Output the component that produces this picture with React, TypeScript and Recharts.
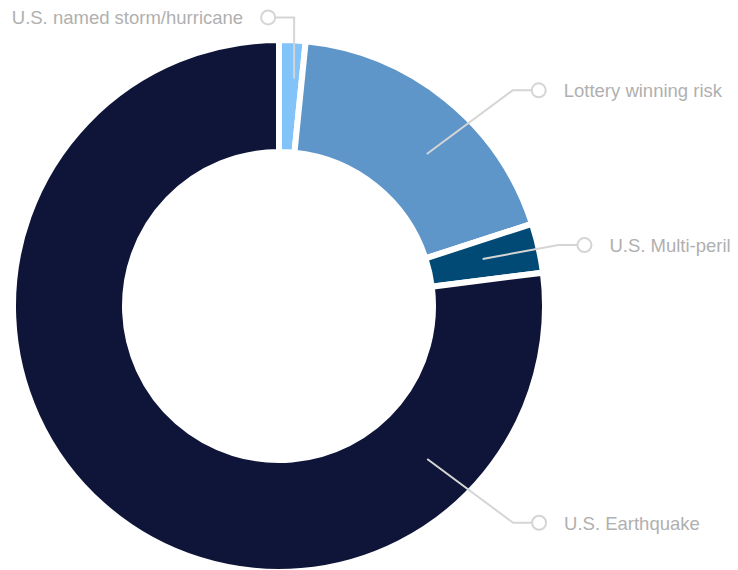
import { PieChart, Pie, Cell } from 'recharts';

const categories = [
  'U.S. named storm/hurricane',
  'Lottery winning risk',
  'U.S. Multi-peril',
  'U.S. Earthquake',
];
const shares = [1.6, 18.4, 3.0, 77.0];
const colors = ['#82c3f9', '#5e96c9', '#004a75', '#0f1538'];

const data = categories.map((name, i) => ({ name, value: shares[i] }));

// leader line layout: angles clockwise from 12 o'clock, radii from the pie centre
const labelLayout: Record<
  string,
  { a0: number; r0: number; a1: number; r1: number; dir: 1 | -1 }
> = {
  'U.S. named storm/hurricane': { a0: 3.8, r0: 228, a1: 3.0, r1: 289, dir: -1 },
  'Lottery winning risk': { a0: 44.2, r0: 212, a1: 47.3, r1: 318, dir: 1 },
  'U.S. Multi-peril': { a0: 77.0, r0: 209, a1: 77.7, r1: 286, dir: 1 },
  'U.S. Earthquake': { a0: 135.9, r0: 213, a1: 132.8, r1: 319, dir: 1 },
};

const polar = (cx: number, cy: number, r: number, deg: number) => {
  const rad = (deg * Math.PI) / 180;
  return { x: cx + r * Math.sin(rad), y: cy - r * Math.cos(rad) };
};

const renderLabel = (props: any) => {
  const { cx, cy, name } = props;
  const l = labelLayout[name];
  if (!l) return null;
  const p0 = polar(cx, cy, l.r0, l.a0);
  const p1 = polar(cx, cy, l.r1, l.a1);
  const circleX = p1.x + l.dir * 26;
  const textX = circleX + l.dir * 25;
  return (
    <g>
      <polyline
        points={`${p0.x},${p0.y} ${p1.x},${p1.y} ${circleX - l.dir * 7},${p1.y}`}
        fill='none'
        stroke='#d5d5d5'
        strokeWidth={2}
      />
      <circle cx={circleX} cy={p1.y} r={7} fill='#fff' stroke='#d5d5d5' strokeWidth={2} />
      <text
        x={textX}
        y={p1.y + 7}
        textAnchor={l.dir === 1 ? 'start' : 'end'}
        fill='#b0b0b0'
        fontSize={18.5}
        fontFamily="'Liberation Sans', Arial, sans-serif"
      >
        {name}
      </text>
    </g>
  );
};

export default function App() {
  return (
    <div style={{ width: 738, height: 570 }}>
      <style>{'body{margin:0}'}</style>
      <PieChart width={738} height={570} margin={{ top: 0, right: 0, bottom: 0, left: 0 }}>
        <Pie
          data={data}
          dataKey='value'
          nameKey='name'
          cx={279}
          cy={306}
          innerRadius={154}
          outerRadius={266}
          startAngle={90}
          endAngle={-270}
          stroke='#fff'
          strokeWidth={6}
          label={renderLabel}
          labelLine={false}
          isAnimationActive={false}
        >
          {data.map((d, i) => (
            <Cell key={d.name} fill={colors[i]} />
          ))}
        </Pie>
      </PieChart>
    </div>
  );
}
